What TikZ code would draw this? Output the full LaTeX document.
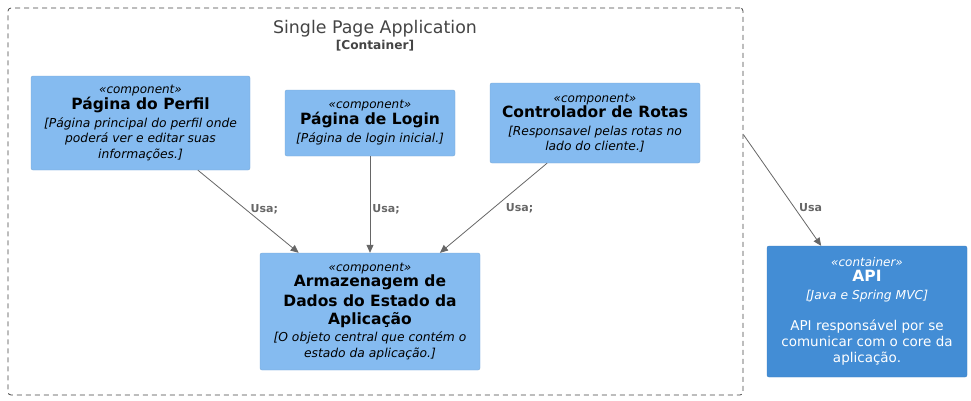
\documentclass[tikz,border=0pt]{standalone}
\usepackage{fontspec}
\setmainfont{DejaVu Sans}
\usepackage{xcolor}
\usepackage{tikz}
\usetikzlibrary{arrows.meta,positioning,calc}
\definecolor{compfill}{HTML}{85BBF0}
\definecolor{compdraw}{HTML}{78A8D8}
\definecolor{contfill}{HTML}{438DD5}
\definecolor{contdraw}{HTML}{3C7FC0}
\definecolor{relgray}{HTML}{666666}
\definecolor{bndgray}{HTML}{444444}
\newcommand\stereofont{\fontsize{12}{14}\selectfont\itshape}
\newcommand\namefont{\fontsize{15.5}{14}\selectfont\bfseries}
\newcommand\descfont{\fontsize{12.3}{14}\selectfont\itshape}
\newcommand\plainfont{\fontsize{13.5}{14}\selectfont}

\begin{document}
\begin{tikzpicture}[x=1pt,y=-1pt,
  comp/.style={draw=compdraw,fill=compfill,rounded corners=2pt,align=center,inner sep=0pt,font=\fontsize{12}{14}\selectfont},
  cont/.style={draw=contdraw,fill=contfill,rounded corners=2pt,align=center,inner sep=0pt,text=white,font=\fontsize{12}{16}\selectfont},
  rel/.style={-{Triangle[length=8pt,width=7pt]},draw=relgray,line width=0.8pt},
  rellabel/.style={font=\fontsize{11}{13}\selectfont\bfseries,text=relgray,inner sep=2pt},
  boundary/.style={draw=bndgray,dash pattern=on 5pt off 4pt,rounded corners=3pt,line width=0.8pt}
]
\useasboundingbox (0,0) rectangle (971,400);
% boundary of the container
\node[boundary,minimum width=735pt,minimum height=387pt,inner sep=0pt] (spa) at (375.5,201.5) {};
\node[text=bndgray,font=\fontsize{17.4}{19}\selectfont,inner sep=0pt] (spatitle) at (375,29) {Single Page Application};
\node[text=bndgray,font=\fontsize{12.2}{13}\selectfont\bfseries,below=2pt of spatitle,inner sep=0pt] (spatype) {[Container]};
\coordinate (spaout) at ($(spa.north east)+(0,127)$);
% components
\node[comp,minimum width=219pt,minimum height=94pt] (perfil) at (140.5,123)
  {\stereofont «component»\\[0pt]
   \namefont Página do Perfil\\[4pt]
   \descfont [Página principal do perfil onde\\[1.5pt]
   \descfont poderá ver e editar suas\\[1.5pt]
   \descfont informações.]};
\node[comp,minimum width=170pt,minimum height=66pt] (login) at (370,123)
  {\stereofont «component»\\[0pt]
   \namefont Página de Login\\[4pt]
   \descfont [Página de login inicial.]};
\node[comp,minimum width=210pt,minimum height=80pt] (rotas) at (595,123)
  {\stereofont «component»\\[0pt]
   \namefont Controlador de Rotas\\[4pt]
   \descfont [Responsavel pelas rotas no\\[1.5pt]
   \descfont lado do cliente.]};
\node[comp,minimum width=220pt,minimum height=117pt] (estado) at (370,311.5)
  {\stereofont «component»\\[0pt]
   \namefont Armazenagem de\\[4pt]
   \namefont Dados do Estado da\\[4pt]
   \namefont Aplicação\\[3pt]
   \descfont [O objeto central que contém o\\[1.5pt]
   \descfont estado da aplicação.]};
% container outside
\node[cont,minimum width=200pt,minimum height=131pt] (api) at (867,311.5)
  {\stereofont «container»\\[-1pt]
   \namefont API\\[2pt]
   \descfont [Java e Spring MVC]\\[15pt]
   \plainfont API responsável por se\\
   \plainfont comunicar com o core da\\
   \plainfont aplicação.};
% relations
\draw[rel] (perfil) -- node[rellabel,pos=0.47,right=3pt] {Usa;} (estado);
\draw[rel] (login) -- node[rellabel,pos=0.55,right=0pt] {Usa;} (estado);
\draw[rel] (rotas) -- node[rellabel,pos=0.5,right=10pt] {Usa;} (estado);
\draw[rel] (spaout) -- node[rellabel,pos=0.66,right=2pt] {Usa} (api);
\end{tikzpicture}
\end{document}
